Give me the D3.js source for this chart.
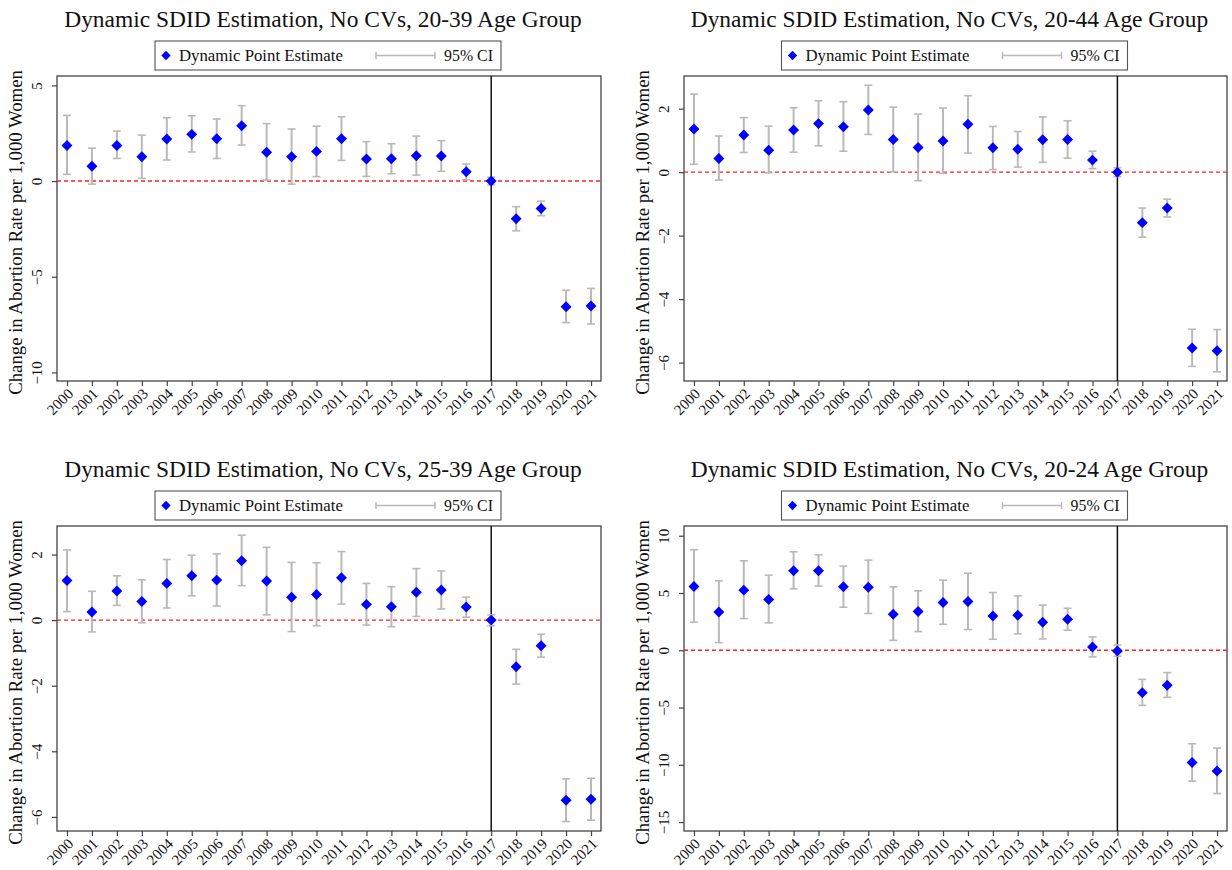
<!DOCTYPE html>
<html>
<head>
<meta charset="utf-8">
<script src="https://cdn.jsdelivr.net/npm/d3@7"></script>
<style>
  html, body { margin: 0; padding: 0; background: #fff; }
  svg { display: block; }
  text { font-family: "Liberation Serif", "DejaVu Serif", serif; fill: #111; }
</style>
</head>
<body>
<svg id="chart" width="1232" height="870"></svg>
<script>
// ---------------- DATA ----------------
const years = [2000, 2001, 2002, 2003, 2004, 2005, 2006, 2007, 2008, 2009, 2010,
               2011, 2012, 2013, 2014, 2015, 2016, 2017, 2018, 2019, 2020, 2021];

const titles = [
  "Dynamic SDID Estimation, No CVs, 20-39 Age Group",
  "Dynamic SDID Estimation, No CVs, 20-44 Age Group",
  "Dynamic SDID Estimation, No CVs, 25-39 Age Group",
  "Dynamic SDID Estimation, No CVs, 20-24 Age Group"
];

const yAxisTitle = "Change in Abortion Rate per 1,000 Women";
const legendLabels = ["Dynamic Point Estimate", "95% CI"];

// 20-39
const est_20_39 = [1.86, 0.77, 1.86, 1.27, 2.20, 2.44, 2.21, 2.89, 1.50, 1.27, 1.55, 2.21, 1.15, 1.17, 1.32, 1.31, 0.49, 0, -1.97, -1.43, -6.57, -6.53];
const lo_20_39  = [0.35, -0.16, 1.18, 0.14, 1.10, 1.52, 1.18, 1.88, 0.05, -0.16, 0.23, 1.08, 0.24, 0.38, 0.31, 0.51, 0.07, -0.20, -2.60, -1.81, -7.40, -7.47];
const hi_20_39  = [3.43, 1.72, 2.61, 2.40, 3.31, 3.41, 3.24, 3.94, 3.00, 2.72, 2.87, 3.36, 2.06, 1.95, 2.35, 2.11, 0.89, 0.20, -1.34, -1.05, -5.71, -5.61];
const yTicks_20_39 = [5, 0, -5, -10];

// 20-44
const est_20_44 = [1.36, 0.43, 1.17, 0.69, 1.33, 1.53, 1.43, 1.96, 1.03, 0.78, 0.98, 1.51, 0.77, 0.72, 1.02, 1.03, 0.38, 0, -1.59, -1.13, -5.54, -5.63];
const lo_20_44  = [0.25, -0.25, 0.62, -0.02, 0.63, 0.83, 0.66, 1.19, 0.01, -0.27, -0.04, 0.60, 0.08, 0.16, 0.31, 0.44, 0.11, -0.14, -2.05, -1.41, -6.12, -6.29];
const hi_20_44  = [2.46, 1.14, 1.72, 1.45, 2.03, 2.25, 2.22, 2.74, 2.05, 1.83, 2.02, 2.41, 1.44, 1.28, 1.74, 1.62, 0.66, 0.14, -1.13, -0.85, -4.95, -4.96];
const yTicks_20_44 = [2, 0, -2, -4, -6];

// 25-39
const est_25_39 = [1.21, 0.25, 0.89, 0.57, 1.12, 1.35, 1.22, 1.81, 1.19, 0.70, 0.78, 1.29, 0.48, 0.41, 0.85, 0.92, 0.40, 0, -1.42, -0.78, -5.49, -5.46];
const lo_25_39  = [0.26, -0.36, 0.45, -0.08, 0.37, 0.74, 0.43, 1.05, 0.16, -0.35, -0.17, 0.49, -0.15, -0.20, 0.11, 0.34, 0.09, -0.17, -1.95, -1.13, -6.14, -6.10];
const hi_25_39  = [2.14, 0.88, 1.35, 1.23, 1.85, 1.98, 2.02, 2.59, 2.22, 1.76, 1.75, 2.09, 1.12, 1.02, 1.57, 1.50, 0.70, 0.16, -0.89, -0.43, -4.84, -4.82];
const yTicks_25_39 = [2, 0, -2, -4, -6];

// 20-24
const est_20_24 = [5.57, 3.35, 5.25, 4.43, 6.94, 6.94, 5.54, 5.51, 3.15, 3.38, 4.17, 4.26, 3.00, 3.06, 2.45, 2.71, 0.29, -0.06, -3.70, -3.06, -9.80, -10.55];
const lo_20_24  = [2.45, 0.67, 2.77, 2.39, 5.36, 5.60, 3.76, 3.21, 0.87, 1.63, 2.27, 1.81, 0.96, 1.43, 0.99, 1.75, -0.58, -0.52, -4.81, -4.11, -11.43, -12.51];
const hi_20_24  = [8.78, 6.06, 7.81, 6.56, 8.60, 8.34, 7.35, 7.87, 5.54, 5.19, 6.12, 6.73, 5.04, 4.75, 3.94, 3.67, 1.17, 0.47, -2.54, -1.95, -8.16, -8.54];
const yTicks_20_24 = [10, 5, 0, -5, -10, -15];

const treatYear = 2017;

// ---------------- LAYOUT ----------------
const panels = [
  { title: titles[0], est: est_20_39, lo: lo_20_39, hi: hi_20_39, ticks: yTicks_20_39, yDom: [-10.45, 5.49], left: 57,  right: 601,  top: 76,  bottom: 381 },
  { title: titles[1], est: est_20_44, lo: lo_20_44, hi: hi_20_44, ticks: yTicks_20_44, yDom: [-6.58, 3.03],  left: 684, right: 1227, top: 76,  bottom: 381 },
  { title: titles[2], est: est_25_39, lo: lo_25_39, hi: hi_25_39, ticks: yTicks_25_39, yDom: [-6.43, 2.87],  left: 57,  right: 601,  top: 526, bottom: 831 },
  { title: titles[3], est: est_20_24, lo: lo_20_24, hi: hi_20_24, ticks: yTicks_20_24, yDom: [-15.78, 10.85], left: 684, right: 1227, top: 526, bottom: 831 }
];

const svg = d3.select("#chart");

function fitText(sel, target, base) {
  sel.style("font-size", base + "px");
  const w = sel.node().getComputedTextLength();
  if (w > 0) sel.style("font-size", (base * target / w) + "px");
  return sel;
}

const ciColor = "#b9b9b9";
const ptColor = "#0000ff";
const diamond = d3.symbol().type(d3.symbolSquare).size(60);

panels.forEach(p => {
  const g = svg.append("g");
  const x = d3.scaleLinear().domain([1999.6, 2021.4]).range([p.left, p.right]);
  const y = d3.scaleLinear().domain(p.yDom).range([p.bottom, p.top]);
  const cx = (p.left + p.right) / 2;

  // Title
  const t = g.append("text")
    .attr("x", cx - 6).attr("y", p.top - 49)
    .attr("text-anchor", "middle")
    .text(p.title);
  fitText(t, 518, 22);

  // Legend
  const lg = g.append("g").attr("transform", `translate(${cx},${p.top})`);
  lg.append("rect")
    .attr("x", -174).attr("y", -35).attr("width", 346).attr("height", 29)
    .attr("fill", "#fff").attr("stroke", "#555").attr("stroke-width", 1.1);
  lg.append("path")
    .attr("d", d3.symbol().type(d3.symbolSquare).size(44)())
    .attr("transform", "translate(-163,-20.5) rotate(45)")
    .attr("fill", ptColor);
  const lt1 = lg.append("text").attr("x", -150).attr("y", -15.5).text(legendLabels[0]);
  fitText(lt1, 164, 14);
  const ciG = lg.append("g").attr("transform", "translate(47,0)");
  ciG.append("line").attr("x1", 0).attr("x2", 59).attr("y1", -20.5).attr("y2", -20.5)
    .attr("stroke", ciColor).attr("stroke-width", 1.5);
  [0, 59].forEach(xx => ciG.append("line").attr("x1", xx).attr("x2", xx).attr("y1", -24).attr("y2", -17)
    .attr("stroke", ciColor).attr("stroke-width", 1.5));
  const lt2 = lg.append("text").attr("x", 115).attr("y", -15.5).text(legendLabels[1]);
  fitText(lt2, 49, 14);

  // Frame
  g.append("rect")
    .attr("x", p.left).attr("y", p.top)
    .attr("width", p.right - p.left).attr("height", p.bottom - p.top)
    .attr("fill", "none").attr("stroke", "#444").attr("stroke-width", 1.3);

  // Y axis
  const ya = g.append("g").attr("transform", `translate(${p.left},0)`)
    .call(d3.axisLeft(y).tickValues(p.ticks).tickSize(5).tickFormat(d3.format("d")));
  ya.select(".domain").remove();
  ya.selectAll(".tick line").attr("stroke", "#444").attr("stroke-width", 1.2);
  ya.selectAll(".tick text")
    .attr("x", null).attr("dy", null)
    .attr("text-anchor", "middle")
    .attr("transform", "translate(-15,0) rotate(-90)")
    .style("font-size", "15px")
    .style("font-family", '"Liberation Serif", serif')
    .attr("fill", "#111");

  // Y title
  const yt = g.append("text")
    .attr("transform", `translate(${p.left - 35},${(p.top + p.bottom) / 2 + 4}) rotate(-90)`)
    .attr("text-anchor", "middle")
    .text(yAxisTitle);
  fitText(yt, 325, 16);

  // X axis
  const xa = g.append("g").attr("transform", `translate(0,${p.bottom})`)
    .call(d3.axisBottom(x).tickValues(years).tickSize(5).tickFormat(d3.format("d")));
  xa.select(".domain").remove();
  xa.selectAll(".tick line").attr("stroke", "#444").attr("stroke-width", 1.2);
  xa.selectAll(".tick text")
    .attr("y", null).attr("dy", "0.35em")
    .attr("text-anchor", "end")
    .attr("transform", "translate(3,10) rotate(-45)")
    .style("font-size", "15px")
    .style("font-family", '"Liberation Serif", serif')
    .attr("fill", "#111");

  // zero reference line
  g.append("line")
    .attr("x1", p.left).attr("x2", p.right)
    .attr("y1", y(0)).attr("y2", y(0))
    .attr("stroke", "#ff2020").attr("stroke-width", 1.4)
    .attr("stroke-dasharray", "4,3");

  // treatment line
  g.append("line")
    .attr("x1", x(treatYear)).attr("x2", x(treatYear))
    .attr("y1", p.top).attr("y2", p.bottom)
    .attr("stroke", "#111").attr("stroke-width", 1.5);

  const rows = years.map((yr, i) => ({ yr, e: p.est[i], lo: p.lo[i], hi: p.hi[i] }));

  // CI bars
  const ci = g.append("g");
  ci.selectAll("line.v").data(rows).join("line").attr("class", "v")
    .attr("x1", d => x(d.yr)).attr("x2", d => x(d.yr))
    .attr("y1", d => y(d.lo)).attr("y2", d => y(d.hi))
    .attr("stroke", ciColor).attr("stroke-width", 2);
  ci.selectAll("line.ct").data(rows).join("line").attr("class", "ct")
    .attr("x1", d => x(d.yr) - 4).attr("x2", d => x(d.yr) + 4)
    .attr("y1", d => y(d.hi)).attr("y2", d => y(d.hi))
    .attr("stroke", ciColor).attr("stroke-width", 1.6);
  ci.selectAll("line.cb").data(rows).join("line").attr("class", "cb")
    .attr("x1", d => x(d.yr) - 4).attr("x2", d => x(d.yr) + 4)
    .attr("y1", d => y(d.lo)).attr("y2", d => y(d.lo))
    .attr("stroke", ciColor).attr("stroke-width", 1.6);

  // points
  g.append("g").selectAll("path").data(rows).join("path")
    .attr("d", diamond())
    .attr("transform", d => `translate(${x(d.yr)},${y(d.e)}) rotate(45)`)
    .attr("fill", ptColor);
});
</script>
</body>
</html>
